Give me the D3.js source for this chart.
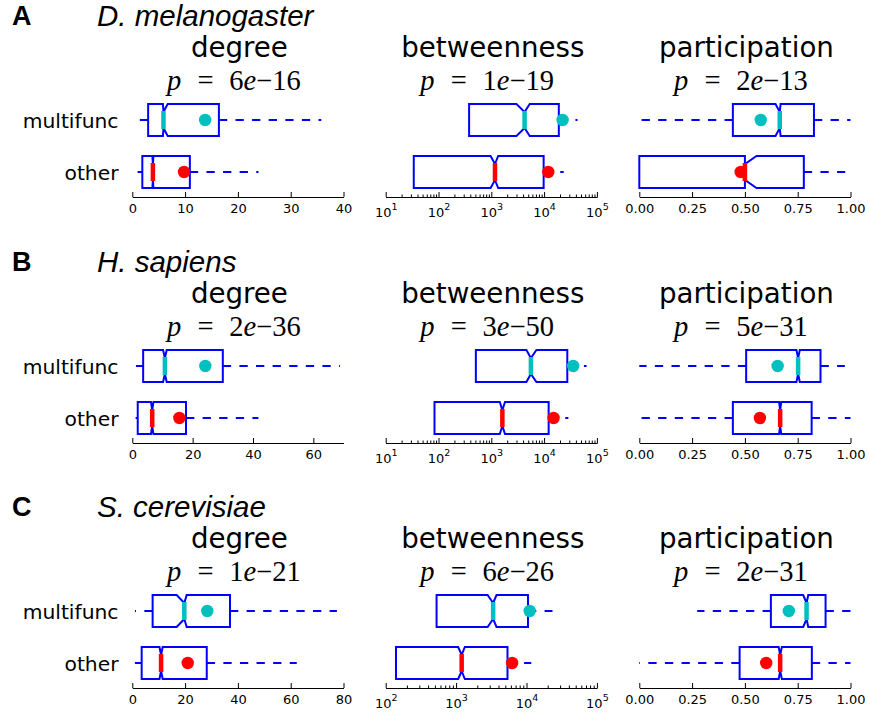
<!DOCTYPE html>
<html>
<head>
<meta charset="utf-8">
<script src="https://cdn.jsdelivr.net/npm/d3@7"></script>
<style>
  body { margin: 0; background: #fff; }
  svg { display: block; }
</style>
</head>
<body>
<svg id="chart"></svg>
<script>
var width = 869;
var height = 715;

//------------------------------------------------------------------------------
// data
//------------------------------------------------------------------------------
var panelLetters = ["A", "B", "C"];
var species = ["D. melanogaster", "H. sapiens", "S. cerevisiae"];
var metrics = ["degree", "betweenness", "participation"];
var groups = ["multifunc", "other"];

var pMantissa = [[6, 1, 2], [2, 3, 5], [1, 6, 2]];
var pExponent = [[16, 19, 13], [36, 50, 31], [21, 26, 31]];

var degreeMax = [40, 70, 80];
var degreeTicks = [[0, 10, 20, 30, 40], [0, 20, 40, 60], [0, 20, 40, 60, 80]];
var betweenDomain = [[1e1, 1e5], [1e1, 1e5], [1e2, 1e5]];
var participationTicks = [0, 0.25, 0.5, 0.75, 1];

// each box: [whisker low, q1, notch low, median, notch high, q3, whisker high, mean]
// one row per species, [multifunc, other]
var degreeStats = [
  [[1, 3, 5.8, 5.9, 6.7, 16.4, 35.8, 13.8], [1, 1.9, 3.8, 3.9, 4.0, 10.9, 23.9, 9.8]],
  [[1.2, 3.6, 10.2, 10.8, 11.4, 30, 68.8, 24.2], [1.1, 1.8, 6.2, 6.6, 7.0, 17.8, 41.8, 15.6]],
  [[1, 7.7, 16.8, 19.7, 20.6, 37, 77.5, 28.4], [1, 3.55, 10.3, 10.9, 11.5, 28.2, 62.3, 21.0]]
];
var betweenStats = [
  [[380, 380, 2990, 4270, 5350, 19000, 43000, 22400], [34, 34, 970, 1175, 1350, 9800, 23500, 12000]],
  [[510, 510, 4620, 5620, 7160, 27500, 63800, 35500], [84, 84, 1445, 1620, 1820, 12200, 28800, 15100]],
  [[528, 528, 2800, 3360, 3750, 10500, 23400, 11100], [140, 140, 1070, 1200, 1330, 5370, 11700, 6250]]
];
var participationStats = [
  [[0, 0.443, 0.645, 0.665, 0.669, 0.827, 1.0, 0.575], [0, 0.0, 0.5, 0.5, 0.555, 0.779, 0.975, 0.48]],
  [[0, 0.506, 0.744, 0.752, 0.76, 0.858, 0.973, 0.655], [0, 0.443, 0.662, 0.667, 0.672, 0.816, 1.0, 0.571]],
  [[0.274, 0.623, 0.776, 0.792, 0.80, 0.882, 1.0, 0.708], [0, 0.475, 0.66, 0.667, 0.675, 0.817, 1.0, 0.601]]
];

//------------------------------------------------------------------------------
// layout
//------------------------------------------------------------------------------
var panelTop = [0, 246, 491];
var colX = [132.3, 385.7, 639.3];
var colW = 211.2;
var rowY = [120, 172];
var axisY = 197;
var halfBox = 16;
var groupColor = ["#00bfbf", "#ff0000"];
var boxColor = "#0000ff";

var svg = d3.select("#chart").attr("width", width).attr("height", height);

function makeScale(i, j) {
  var r = [colX[j], colX[j] + colW];
  if (j == 0) return d3.scaleLinear().domain([0, degreeMax[i]]).range(r);
  if (j == 1) return d3.scaleLog().domain(betweenDomain[i]).range(r);
  return d3.scaleLinear().domain([0, 1]).range(r);
}

function statsFor(i, j) {
  return [degreeStats, betweenStats, participationStats][j][i];
}

function drawAxis(g, x, i, j) {
  var axis = d3.axisBottom(x).tickSizeInner(-5).tickSizeOuter(0);
  var ag = g.append("g").attr("transform", "translate(0," + axisY + ")");
  if (j == 1) {
    var d = betweenDomain[i];
    var majors = [], minors = [];
    for (var e = Math.log10(d[0]); e <= Math.log10(d[1]); e++) {
      majors.push(Math.pow(10, e));
      if (e < Math.log10(d[1])) for (var m = 2; m < 10; m++) minors.push(m * Math.pow(10, e));
    }
    ag.append("g").attr("class", "minor")
      .call(d3.axisBottom(x).tickValues(minors).tickSizeInner(-2.5).tickSizeOuter(0).tickFormat(""));
    axis.tickValues(majors).tickPadding(10.4).tickFormat("");
    var mg = ag.append("g").attr("class", "major").call(axis);
    mg.selectAll(".tick text").each(function(v) {
      var t = d3.select(this);
      t.text(null);
      t.append("tspan").text("10");
      t.append("tspan").attr("dy", -6.3).attr("font-size", 9.5).text(Math.round(Math.log10(v)));
    });
  } else {
    if (j == 0) axis.tickValues(degreeTicks[i]).tickFormat(d3.format("d"));
    else axis.tickValues(participationTicks).tickFormat(d3.format(".2f"));
    axis.tickPadding(6.8);
    ag.call(axis);
  }
  ag.selectAll("g").attr("font-family", null).attr("font-size", null);
  ag.attr("font-family", "DejaVu Sans").attr("font-size", 13);
  ag.selectAll("path.domain").attr("stroke", "#000").attr("stroke-width", 1);
  ag.selectAll(".tick line").attr("stroke", "#000").attr("stroke-width", 1);
  ag.selectAll(".tick text").attr("fill", "#000");
}

function drawBox(g, x, s, yc, color) {
  var wlo = s[0], q1 = s[1], nlo = s[2], med = s[3], nhi = s[4], q3 = s[5], whi = s[6], mean = s[7];
  var h = halfBox;
  var pts = [
    [q1, yc - h], [nlo, yc - h], [med, yc - h / 2], [nhi, yc - h], [q3, yc - h],
    [q3, yc + h], [nhi, yc + h], [med, yc + h / 2], [nlo, yc + h], [q1, yc + h]
  ];
  var line = d3.line().x(function(p) { return x(p[0]); }).y(function(p) { return p[1]; });

  [[q3, whi], [q1, wlo]].forEach(function(w) {
    g.append("line")
      .attr("x1", x(w[0])).attr("x2", x(w[1]))
      .attr("y1", yc).attr("y2", yc)
      .attr("stroke", boxColor).attr("stroke-width", 2)
      .attr("stroke-dasharray", "8.3,8.3");
  });

  g.append("path")
    .attr("d", line(pts) + "Z")
    .attr("fill", "#fff")
    .attr("stroke", boxColor)
    .attr("stroke-width", 2)
    .attr("stroke-linejoin", "miter");

  g.append("line")
    .attr("x1", x(med)).attr("x2", x(med))
    .attr("y1", yc - h / 2 - 1).attr("y2", yc + h / 2 + 1)
    .attr("stroke", color).attr("stroke-width", 4.5);

  g.append("circle")
    .attr("cx", x(mean)).attr("cy", yc).attr("r", 6.2)
    .attr("fill", color);
}

//------------------------------------------------------------------------------
// panels
//------------------------------------------------------------------------------
species.forEach(function(sp, i) {
  var g = svg.append("g").attr("transform", "translate(0," + panelTop[i] + ")");

  g.append("text")
    .attr("x", 12).attr("y", 25)
    .attr("font-family", "Liberation Sans").attr("font-weight", "bold").attr("font-size", 27)
    .text(panelLetters[i]);
  g.append("text")
    .attr("x", 97).attr("y", 25.5)
    .attr("font-family", "Liberation Sans").attr("font-style", "italic").attr("font-size", 29.5)
    .text(sp);

  groups.forEach(function(gr, k) {
    g.append("text")
      .attr("x", 118.5).attr("y", rowY[k] + 7.8)
      .attr("text-anchor", "end")
      .attr("font-family", "DejaVu Sans").attr("font-size", 20.3)
      .text(gr);
  });

  metrics.forEach(function(mt, j) {
    var x = makeScale(i, j);
    var c = colX[j] + colW / 2;

    g.append("text")
      .attr("x", c + 1.5).attr("y", 57)
      .attr("text-anchor", "middle")
      .attr("font-family", "DejaVu Sans").attr("font-size", 27.7)
      .text(mt);

    var pt = g.append("text").attr("y", 90)
      .attr("font-family", "Liberation Serif").attr("font-size", 28.5);
    pt.append("tspan").attr("x", c - 71).attr("font-style", "italic").text("p");
    pt.append("tspan").attr("x", c - 40.5).text("=");
    pt.append("tspan").attr("x", c - 8.7).text(pMantissa[i][j]);
    pt.append("tspan").attr("font-style", "italic").text("e");
    pt.append("tspan").text("\u2212" + pExponent[i][j]);

    drawAxis(g, x, i, j);

    var st = statsFor(i, j);
    groups.forEach(function(gr, k) {
      drawBox(g, x, st[k], rowY[k], groupColor[k]);
    });
  });
});
</script>
</body>
</html>
